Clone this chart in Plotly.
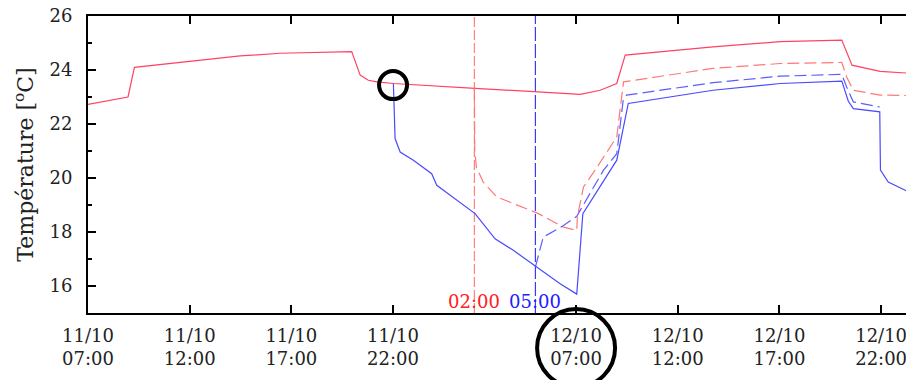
import plotly.graph_objects as go

D1 = "2010-10-11 "
D2 = "2010-10-12 "

# Red solid series (reference room)
red_t = [D1 + t for t in ["07:00", "08:58", "09:17", "11:31", "14:29", "16:27", "19:58", "20:23",
                          "20:47", "21:12", "22:01"]] + \
        [D2 + t for t in ["02:02", "05:08", "06:22", "07:12", "08:11", "09:00", "09:25", "13:44",
                          "17:02", "20:04", "20:34", "21:57", "23:37"]]
red_v = [22.73, 23.0, 24.1, 24.27, 24.52, 24.62, 24.68, 23.81, 23.62, 23.56, 23.5,
         23.32, 23.19, 23.13, 23.1, 23.25, 23.5, 24.55, 24.86, 25.05, 25.11, 24.18, 23.95, 23.87]

# Blue solid series
blue_t = [D1 + t for t in ["22:01", "22:06", "22:21", "23:00", "23:54"]] + \
         [D2 + t for t in ["00:09", "02:02", "03:01", "03:55", "05:09", "06:13", "07:02", "07:20",
                           "09:00", "09:34", "13:44", "17:02", "20:04", "20:23", "20:38", "21:56",
                           "21:58", "22:21", "23:35"]]
blue_v = [23.5, 21.46, 20.96, 20.66, 20.16, 19.73, 18.68, 17.75, 17.32, 16.64, 16.08, 15.7,
          18.68, 20.66, 22.76, 23.25, 23.5, 23.59, 22.85, 22.57, 22.45, 20.29, 19.85, 19.4]

# Blue dashed series (start 05:00)
bdash_t = [D2 + t for t in ["05:00", "05:23", "06:23", "07:02", "08:21", "09:00", "09:19", "09:29",
                            "13:44", "17:02", "20:04", "20:18", "20:38", "21:56"]]
bdash_v = [16.7, 17.81, 18.24, 18.58, 20.29, 20.9, 22.88, 23.07, 23.53, 23.77, 23.84, 23.38,
           22.82, 22.63]

# Red dashed series (start 02:00)
rdash_t = [D2 + t for t in ["02:00", "02:01", "02:06", "02:26", "03:06", "03:45", "05:09", "06:23",
                            "07:02", "07:04", "07:22", "07:56", "09:00", "09:20", "13:44", "17:02",
                            "20:04", "20:18", "20:38", "21:57", "23:37"]]
rdash_v = [23.32, 21.03, 20.4, 19.85, 19.3, 19.11, 18.68, 18.18, 18.06, 18.58, 19.67, 20.29,
           21.52, 23.56, 24.06, 24.24, 24.28, 23.75, 23.25, 23.07, 23.05]

tick_vals = [D1 + "07:00", D1 + "12:00", D1 + "17:00", D1 + "22:00",
             D2 + "07:00", D2 + "12:00", D2 + "17:00", D2 + "22:00"]
tick_text = ["11/10<br>07:00", "11/10<br>12:00", "11/10<br>17:00", "11/10<br>22:00",
             "12/10<br>07:00", "12/10<br>12:00", "12/10<br>17:00", "12/10<br>22:00"]

x_range = [D1 + "07:00", D2 + "23:37"]
y_range = [15, 26]
start_red = D2 + "02:00"
start_blue = D2 + "05:00"

FONT = "DejaVu Serif"

fig = go.Figure()
fig.add_trace(go.Scatter(x=red_t, y=red_v, mode="lines",
                         line=dict(color="#ff4262", width=1.2)))
fig.add_trace(go.Scatter(x=rdash_t, y=rdash_v, mode="lines",
                         line=dict(color="#ff7878", width=1.2, dash="12px,5px")))
fig.add_trace(go.Scatter(x=bdash_t, y=bdash_v, mode="lines",
                         line=dict(color="#5c5cff", width=1.2, dash="12px,5px")))
fig.add_trace(go.Scatter(x=blue_t, y=blue_v, mode="lines",
                         line=dict(color="#4a4aff", width=1.2)))

shapes = [
    dict(type="line", xref="x", yref="paper", x0=start_red, x1=start_red, y0=0, y1=1,
         line=dict(color="#ff8080", width=1.2, dash="10px,3px"), layer="below"),
    dict(type="line", xref="x", yref="paper", x0=start_blue, x1=start_blue, y0=0, y1=1,
         line=dict(color="#3a3aff", width=1.2, dash="14px,3px"), layer="below"),
    dict(type="circle", xref="x", yref="y", xsizemode="pixel", ysizemode="pixel",
         xanchor=D1 + "22:00", yanchor=23.44, x0=-14, x1=14, y0=-14, y1=14,
         line=dict(color="black", width=4), layer="above"),
    dict(type="circle", xref="x", yref="paper", xsizemode="pixel", ysizemode="pixel",
         xanchor=D2 + "07:00", yanchor=-0.118, x0=-39, x1=39, y0=-39, y1=39,
         line=dict(color="black", width=4), layer="above"),
]

annotations = [
    dict(x=start_red, y=15.43, xref="x", yref="y", text="02:00", showarrow=False,
         font=dict(family=FONT, size=18, color="#ff2020"), xanchor="center", yanchor="middle"),
    dict(x=start_blue, y=15.43, xref="x", yref="y", text="05:00", showarrow=False,
         font=dict(family=FONT, size=18, color="#2020ff"), xanchor="center", yanchor="middle"),
]

fig.update_layout(
    width=906, height=372,
    margin=dict(l=80, r=0, t=8, b=67, autoexpand=False),
    paper_bgcolor="white", plot_bgcolor="white",
    showlegend=False,
    font=dict(family=FONT, size=18, color="#222222"),
    shapes=shapes, annotations=annotations,
)
fig.update_xaxes(
    type="date", range=x_range, tickmode="array", tickvals=tick_vals, ticktext=tick_text,
    showgrid=False, zeroline=False, showline=True, linecolor="black", linewidth=2,
    mirror="ticks", ticks="inside", ticklen=8, tickwidth=1.5, tickcolor="black",
    ticklabelstandoff=5, automargin=False, ticklabeloverflow="allow",
)
fig.update_yaxes(
    range=y_range, tickmode="linear", tick0=16, dtick=2,
    showgrid=False, zeroline=False, showline=True, linecolor="black", linewidth=2,
    mirror=False, ticks="inside", ticklen=8, tickwidth=1.5, tickcolor="black",
    ticklabelstandoff=10, automargin=False, ticklabeloverflow="allow",
    minor=dict(tickmode="linear", tick0=15, dtick=1, ticks="inside", ticklen=4,
               tickwidth=1.5, tickcolor="black", showgrid=False),
    title=dict(text="Température [<sup>o</sup>C]", font=dict(family=FONT, size=22),
               standoff=10),
)

fig.write_html("out.html")
